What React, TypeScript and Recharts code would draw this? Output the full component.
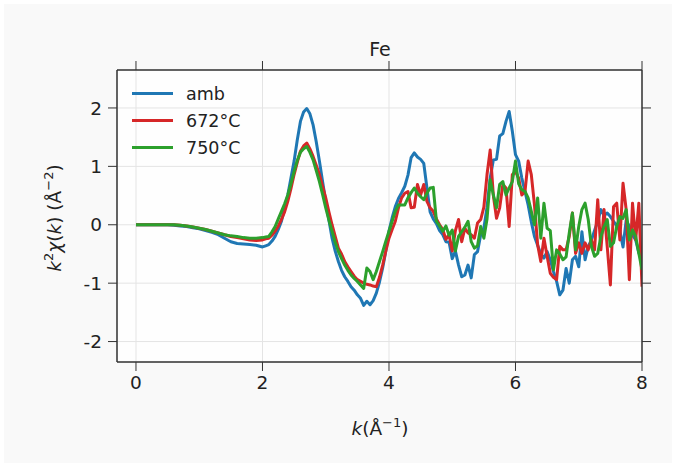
import React from 'react';
import { LineChart, Line, XAxis, YAxis, CartesianGrid, Legend } from 'recharts';

const FONT = '"DejaVu Sans", sans-serif';

// k grid (Å^-1)
const kValues = [
  0, 0.1, 0.2, 0.3, 0.4, 0.5, 0.6, 0.7, 0.8, 0.9, 1.0, 1.1, 1.2, 1.3, 1.4, 1.5, 1.6, 1.7, 1.8, 1.9,
  2.0, 2.05, 2.1, 2.15, 2.2, 2.25, 2.3, 2.35, 2.4, 2.45, 2.5, 2.55, 2.6, 2.65, 2.7, 2.75, 2.8, 2.85, 2.9, 2.95,
  3.0, 3.05, 3.1, 3.15, 3.2, 3.25, 3.3, 3.35, 3.4, 3.45, 3.5, 3.55, 3.6, 3.65, 3.7, 3.75, 3.8, 3.85, 3.9, 3.95,
  4.0, 4.05, 4.1, 4.15, 4.2, 4.25, 4.3, 4.35, 4.4, 4.45, 4.5, 4.55, 4.6, 4.65, 4.7, 4.75, 4.8, 4.85, 4.9, 4.95,
  5.0, 5.05, 5.1, 5.15, 5.2, 5.25, 5.3, 5.35, 5.4, 5.45, 5.5, 5.55, 5.6, 5.65, 5.7, 5.75, 5.8, 5.85, 5.9, 5.95,
  6.0, 6.05, 6.1, 6.15, 6.2, 6.25, 6.3, 6.35, 6.4, 6.45, 6.5, 6.55, 6.6, 6.65, 6.7, 6.75, 6.8, 6.85, 6.9, 6.95,
  7.0, 7.05, 7.1, 7.15, 7.2, 7.25, 7.3, 7.35, 7.4, 7.45, 7.5, 7.55, 7.6, 7.65, 7.7, 7.75, 7.8, 7.85, 7.9, 7.95,
  8.0,
];

const ambValues = [
  0, 0, 0, 0, 0, 0, -0.01, -0.02, -0.03, -0.05, -0.07, -0.1, -0.13, -0.17, -0.23, -0.29, -0.32, -0.33, -0.34, -0.35,
  -0.38, -0.36, -0.34, -0.28, -0.2, -0.08, 0.06, 0.28, 0.51, 0.8, 1.09, 1.45, 1.77, 1.93, 1.99, 1.9, 1.71, 1.42, 1.09, 0.74,
  0.4, 0.08, -0.23, -0.45, -0.63, -0.78, -0.89, -0.97, -1.06, -1.12, -1.2, -1.26, -1.38, -1.31, -1.37, -1.3, -1.17, -0.98, -0.74, -0.45,
  -0.11, 0.12, 0.31, 0.45, 0.55, 0.66, 0.85, 1.15, 1.23, 1.16, 1.12, 1.05, 0.63, 0.22, 0.1, 0.02, -0.1, -0.17, -0.29, -0.3,
  -0.58, -0.45, -0.69, -0.89, -0.86, -0.69, -0.91, -0.51, -0.46, -0.17, -0.06, 0.3, 0.8, 1.11, 1.12, 1.52, 1.56, 1.77, 1.94, 1.6,
  1.2, 1.09, 0.8, 0.57, 0.34, 0.05, -0.2, -0.35, -0.5, -0.57, -0.46, -0.6, -0.8, -0.97, -1.2, -1.12, -0.75, -1.0, -0.6, -0.54,
  -0.72, -0.12, -0.6, -0.37, -0.26, -0.1, 0.06, 0.26, 0.16, 0.2, 0.14, 0.06, -0.02, -0.1, -0.38, 0.08, -0.03, -0.18, -0.26, -0.48,
  -0.6,
];

const t672Values = [
  0, 0, 0, 0, 0, 0, 0, -0.01, -0.02, -0.04, -0.06, -0.08, -0.11, -0.14, -0.17, -0.2, -0.22, -0.24, -0.26, -0.27,
  -0.26, -0.24, -0.23, -0.18, -0.11, -0.02, 0.09, 0.22, 0.4, 0.62, 0.86, 1.07, 1.26, 1.35, 1.4, 1.3, 1.17, 1.02, 0.86, 0.66,
  0.46, 0.22, 0.0, -0.2, -0.4, -0.5, -0.63, -0.72, -0.8, -0.88, -0.94, -0.97, -1.0, -1.02, -1.03, -1.05, -1.06, -0.9, -0.69, -0.45,
  -0.23, -0.08, 0.06, 0.29, 0.46, 0.54, 0.57, 0.29, 0.3, 0.69, 0.51, 0.69, 0.4, 0.29, 0.23, 0.1, 0.0, -0.08, -0.25, -0.17,
  -0.45, -0.1, 0.09, -0.29, -0.06, -0.14, -0.17, -0.23, 0.03, 0.09, 0.3, 0.86, 1.28, 0.5, 0.11, 0.29, 0.69, 0.63, -0.03, 0.86,
  0.91, 0.8, 0.51, 0.57, 1.09, 0.86, 0.34, -0.34, -0.63, -0.23, -0.54, -0.83, -0.9, -0.94, -0.37, -0.43, -0.43, -0.2, 0.2, -0.49,
  -0.31, -0.49, -0.31, -0.43, -0.26, -0.43, 0.43, -0.43, 0.26, -0.37, -1.03, 0.31, 0.37, -0.26, 0.71, 0.26, -0.94, 0.37, -0.26, 0.37,
  -1.06,
];

const t750Values = [
  0, 0, 0, 0, 0, 0, 0, -0.01, -0.02, -0.04, -0.06, -0.08, -0.11, -0.14, -0.17, -0.19, -0.2, -0.22, -0.23, -0.23,
  -0.22, -0.21, -0.2, -0.12, -0.03, 0.1, 0.23, 0.36, 0.51, 0.7, 0.91, 1.1, 1.24, 1.3, 1.34, 1.24, 1.11, 0.93, 0.74, 0.52,
  0.29, 0.08, -0.11, -0.3, -0.46, -0.58, -0.69, -0.78, -0.86, -0.92, -0.97, -1.03, -1.09, -0.74, -0.8, -0.94, -0.8, -0.63, -0.46, -0.28,
  -0.11, 0.06, 0.23, 0.34, 0.34, 0.34, 0.46, 0.55, 0.63, 0.54, 0.48, 0.43, 0.54, 0.63, 0.64, 0.06, -0.02, -0.11, -0.02, -0.18,
  -0.09, -0.45, -0.2, -0.12, -0.04, 0.06, -0.29, -0.4, -0.36, -0.03, -0.23, 0.1, 0.77, 0.51, 0.29, 0.69, 0.74, 0.51, 0.63, 0.74,
  1.09, 0.7, 0.6, 0.57, 0.46, 0.23, 0.0, 0.46, -0.23, 0.37, -0.06, -0.1, -0.77, -0.43, -0.5, -0.6, -0.55, -0.14, 0.2, -0.43,
  -0.03, 0.26, 0.37, 0.09, -0.37, -0.54, -0.49, -0.2, -0.03, 0.09, -0.37, -0.31, -0.03, 0.14, 0.11, 0.26, -0.26, -0.09, -0.2, -0.49,
  -0.77,
];

const xTicks = [0, 2, 4, 6, 8];
const yTicks = [-2, -1, 0, 1, 2];

const series = [
  { key: 'amb', name: 'amb', color: '#1f77b4' },
  { key: 't672', name: '672°C', color: '#d62728' },
  { key: 't750', name: '750°C', color: '#2ca02c' },
];

const chartData = kValues.map((k, i) => ({
  k,
  amb: ambValues[i],
  t672: t672Values[i],
  t750: t750Values[i],
}));

const tickStyle = { fill: '#222', fontSize: 18.5, fontFamily: FONT };
const frame = { stroke: '#333', strokeWidth: 1.5 };

const renderLegend = () => (
  <div style={{ fontFamily: FONT, fontSize: 17.5, color: '#222' }}>
    {series.map((s) => (
      <div key={s.key} style={{ display: 'flex', alignItems: 'center', height: 27 }}>
        <span style={{ display: 'inline-block', width: 41, height: 3, background: s.color, marginRight: 13 }} />
        <span>{s.name}</span>
      </div>
    ))}
  </div>
);

const TitleLabel = () => (
  <text x={380} y={56} textAnchor="middle" fontFamily={FONT} fontSize={19} fill="#222">
    Fe
  </text>
);

const XLabel = () => (
  <text x={380} y={435} textAnchor="middle" fontFamily={FONT} fontSize={18.5} fill="#222">
    <tspan fontStyle="italic">k</tspan>
    <tspan>(Å</tspan>
    <tspan dy={-8} fontSize={13}>−1</tspan>
    <tspan dy={8}>)</tspan>
  </text>
);

const YLabel = () => (
  <text
    x={0}
    y={0}
    transform="translate(61 218) rotate(-90)"
    textAnchor="middle"
    fontFamily={FONT}
    fontSize={18.5}
    fill="#222"
  >
    <tspan fontStyle="italic">k</tspan>
    <tspan dy={-8} fontSize={13}>2</tspan>
    <tspan dy={8} fontStyle="italic">χ</tspan>
    <tspan>(</tspan>
    <tspan fontStyle="italic">k</tspan>
    <tspan>) (Å</tspan>
    <tspan dy={-8} fontSize={13}>−2</tspan>
    <tspan dy={8}>)</tspan>
  </text>
);

export default function App() {
  return (
    <div style={{ position: 'absolute', left: 0, top: 0, width: 678, height: 466, background: '#ffffff' }}>
      <div style={{ position: 'absolute', left: 4, top: 4, width: 668, height: 459, background: '#f9f9f9' }} />
      <div style={{ position: 'absolute', left: 0, top: 0 }}>
        <LineChart
          width={678}
          height={466}
          data={chartData}
          margin={{ top: 58, right: 24, bottom: 44, left: 47 }}
        >
          <CartesianGrid stroke="#e4e4e4" strokeWidth={1} fill="#fefefe" />
          <XAxis
            dataKey="k"
            type="number"
            domain={[-0.3, 8]}
            allowDataOverflow
            ticks={xTicks}
            height={60}
            tick={tickStyle}
            tickSize={9}
            tickMargin={5}
            tickLine={{ stroke: '#333' }}
            axisLine={frame}
            label={<XLabel />}
          />
          <XAxis
            xAxisId="top"
            orientation="top"
            dataKey="k"
            type="number"
            domain={[-0.3, 8]}
            allowDataOverflow
            ticks={xTicks}
            height={12}
            tickFormatter={() => ''}
            tickSize={9}
            tickLine={{ stroke: '#333' }}
            axisLine={frame}
            label={<TitleLabel />}
          />
          <YAxis
            type="number"
            domain={[-2.35, 2.65]}
            allowDataOverflow
            ticks={yTicks}
            width={70}
            tick={tickStyle}
            tickSize={9}
            tickMargin={6}
            tickLine={{ stroke: '#333' }}
            axisLine={frame}
            label={<YLabel />}
          />
          <YAxis
            yAxisId="right"
            orientation="right"
            type="number"
            domain={[-2.35, 2.65]}
            allowDataOverflow
            ticks={yTicks}
            width={12}
            tickFormatter={() => ''}
            tickSize={9}
            tickLine={{ stroke: '#333' }}
            axisLine={frame}
          />
          <Legend
            layout="horizontal"
            verticalAlign="middle"
            content={renderLegend}
            wrapperStyle={{ position: 'absolute', left: 132, top: 80, width: 130, height: 81 }}
          />
          {series.map((s) => (
            <Line
              key={s.key}
              type="linear"
              dataKey={s.key}
              name={s.name}
              stroke={s.color}
              strokeWidth={3}
              strokeLinejoin="round"
              dot={false}
              activeDot={false}
              isAnimationActive={false}
            />
          ))}
        </LineChart>
      </div>
    </div>
  );
}
